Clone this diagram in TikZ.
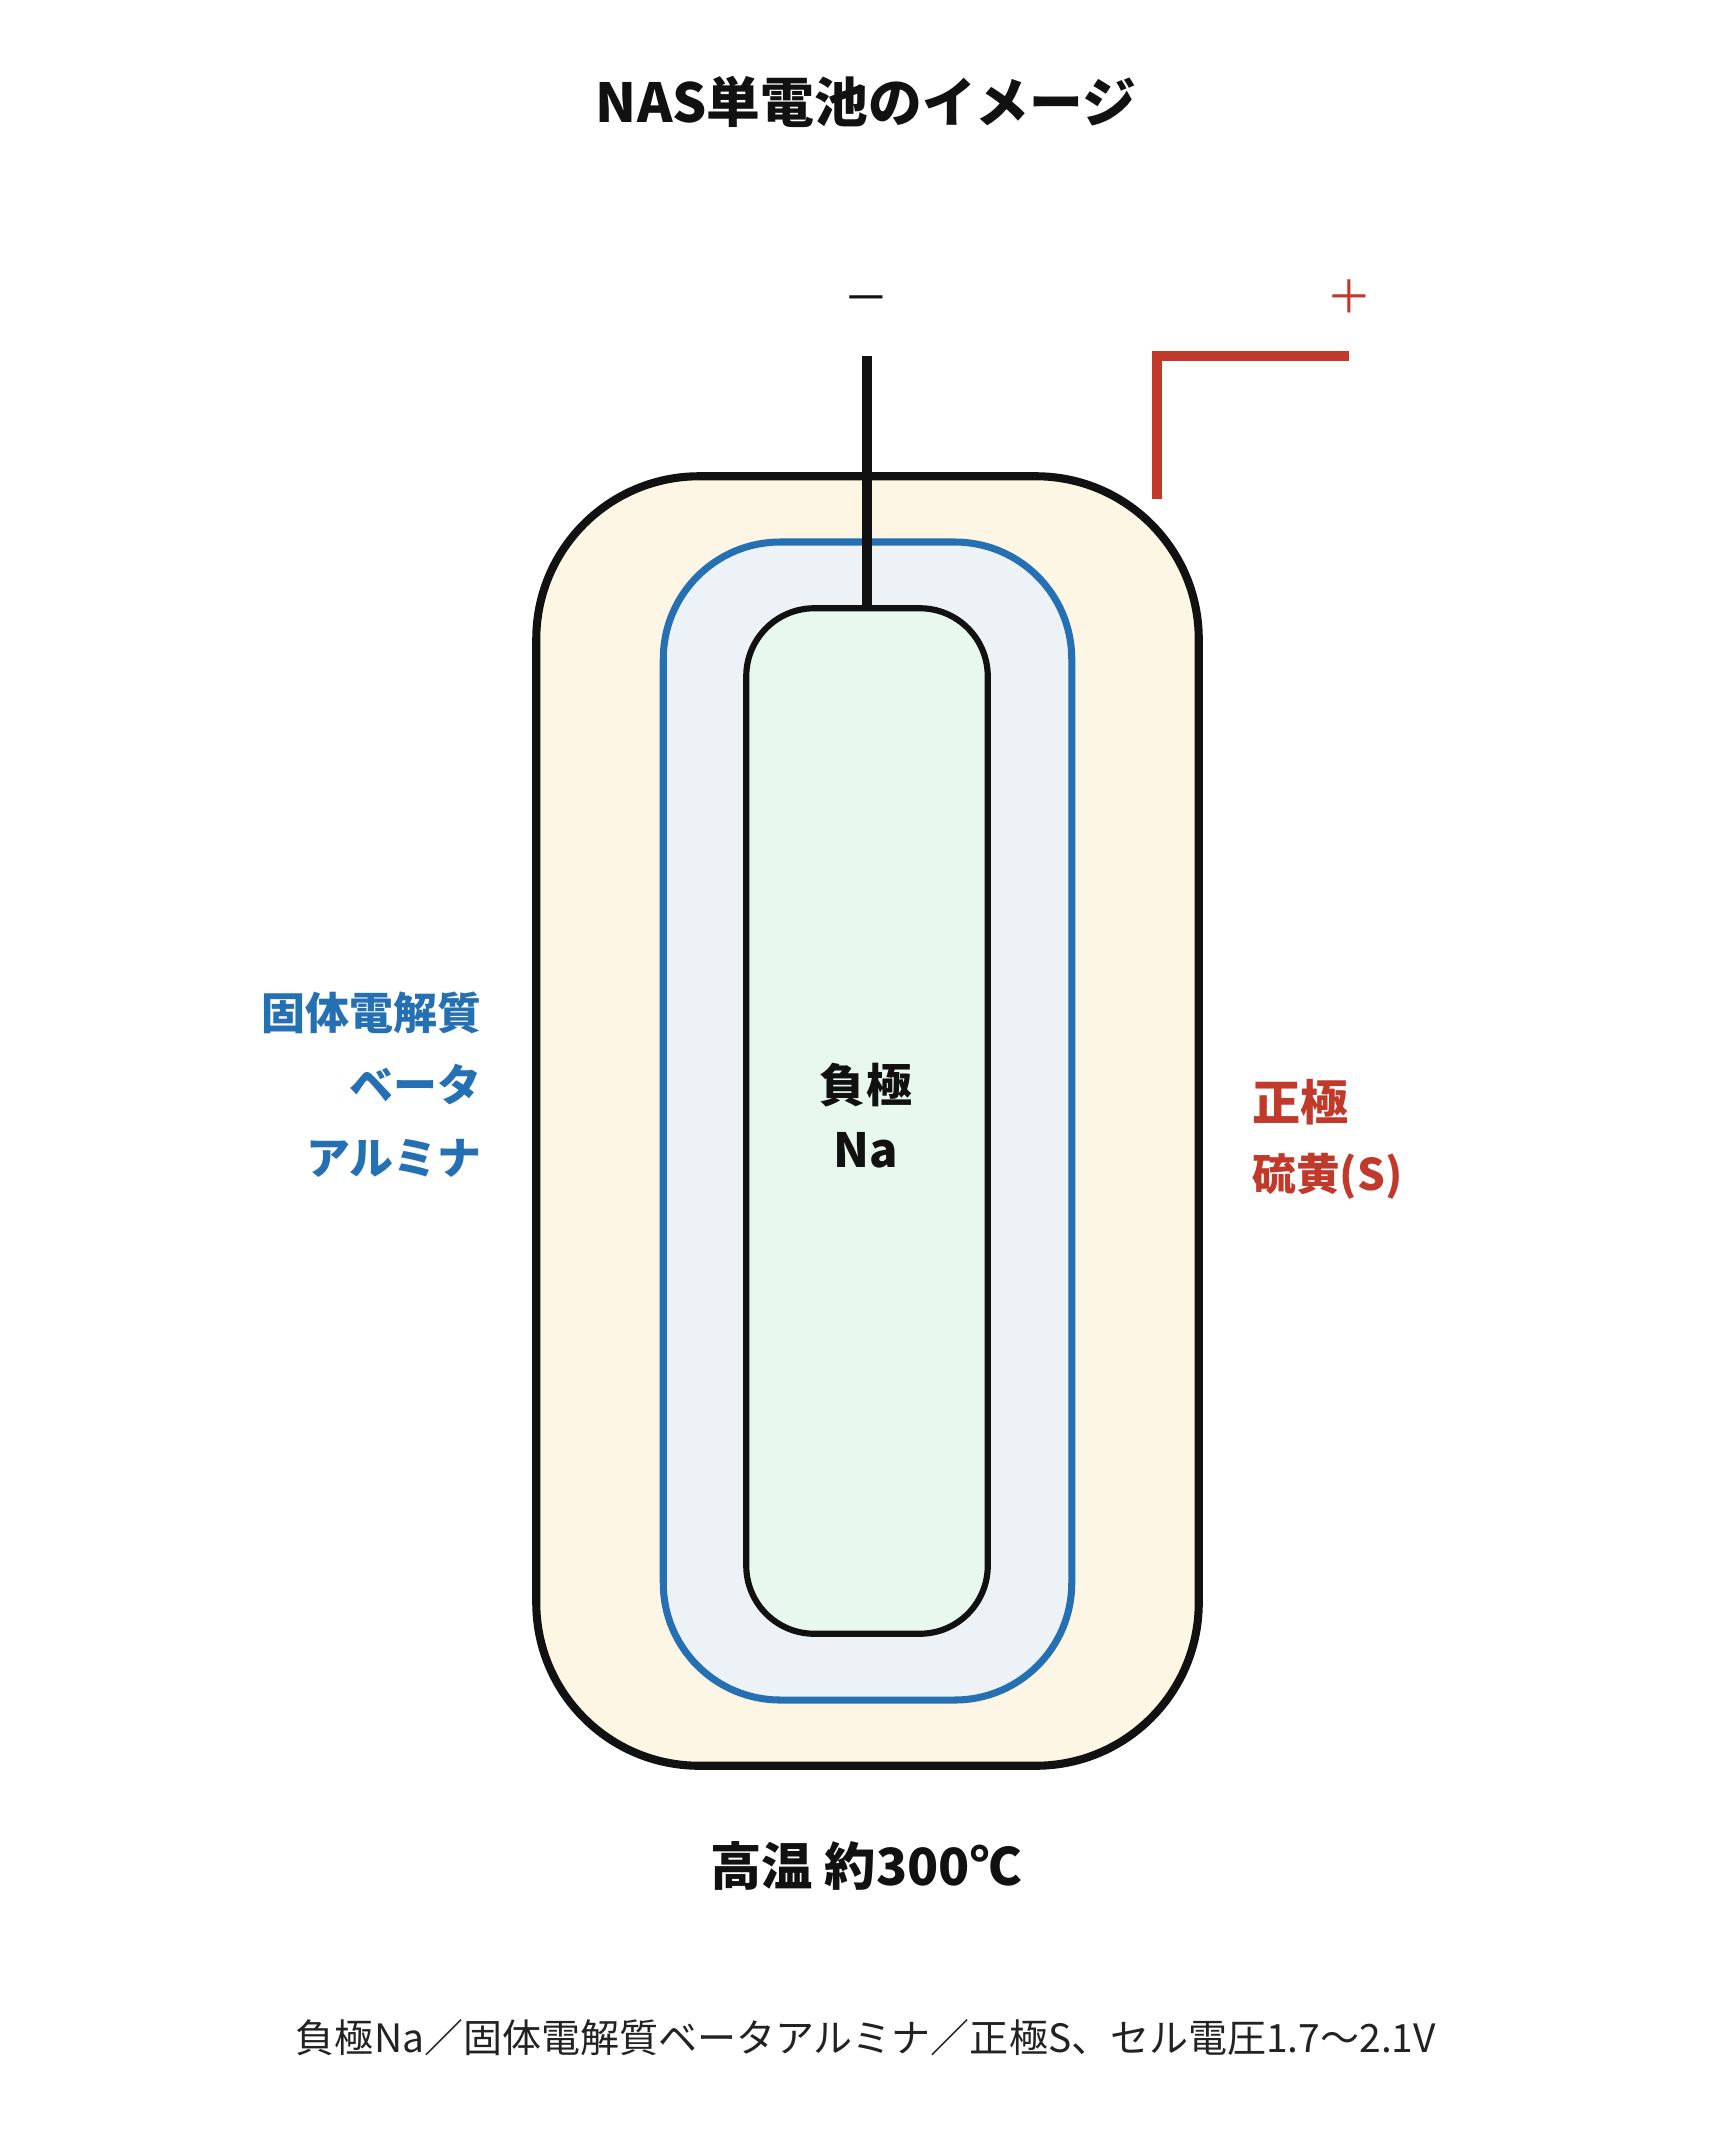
\documentclass[tikz,border=0pt]{standalone}
\usepackage{fontspec}
\newfontfamily\jpfont{Noto Sans CJK JP}
\usetikzlibrary{positioning}

\definecolor{ink}{HTML}{111111}
\definecolor{nasblue}{HTML}{2470B3}
\definecolor{nasred}{HTML}{C0392B}
\definecolor{cream}{HTML}{FDF6E4}
\definecolor{paleblue}{HTML}{EDF2F7}
\definecolor{palegreen}{HTML}{E8F8EE}
\definecolor{textgray}{HTML}{222222}

\tikzset{
  cell/.style={draw, rectangle, inner sep=0pt},
  jp/.style={inner sep=0pt, font=\jpfont\bfseries},
  wire/.style={line width=2.6pt, draw=ink},
}

\begin{document}
\begin{tikzpicture}[x=0.1mm, y=-0.1mm]
    \useasboundingbox (0,0) rectangle (1732,2152);

    \node[jp, text=ink, font=\jpfont\bfseries\fontsize{15.3}{18}\selectfont] (title) at (866,102) {NAS単電池のイメージ};

    % cell layers
    \node[cell, draw=ink, fill=cream, line width=2.3pt, rounded corners=16.3mm,
          minimum width=66.25mm, minimum height=128.95mm] (outer) at (867.5,1121) {};
    \node[cell, draw=nasblue, fill=paleblue, line width=2pt, rounded corners=11.7mm,
          minimum width=40.85mm, minimum height=115.8mm] (bam) at (867.5,1121) {};
    \node[cell, draw=ink, fill=palegreen, line width=1.75pt, rounded corners=6.8mm,
          minimum width=24.15mm, minimum height=102.55mm] (anode) at (867,1121) {};

    % terminals
    \coordinate (negtop) at (867,356);
    \coordinate (posfoot) at (1157,499);
    \coordinate (posend) at (1349,356);
    \draw[wire] (negtop) -- (anode.north);
    \draw[wire, draw=nasred] (posfoot) |- (posend);
    \node[jp, text=ink, font=\jpfont\fontsize{13}{15}\selectfont] (minus) at (866,305) {－};
    \node[jp, text=nasred, font=\jpfont\fontsize{13}{15}\selectfont] (plus) at (1349,297) {＋};

    % labels
    \node[jp, text=ink, font=\jpfont\bfseries\fontsize{13.1}{15}\selectfont] (negname) at (866,1085) {負極};
    \node[jp, text=ink, font=\jpfont\bfseries\fontsize{13.4}{15}\selectfont] (na) at (866,1150) {Na};

    \node[jp, text=nasblue, anchor=east, font=\jpfont\bfseries\fontsize{12.5}{15}\selectfont] (sel) at (482,1013) {固体電解質};
    \node[jp, text=nasblue, anchor=east, font=\jpfont\bfseries\fontsize{12.5}{15}\selectfont] (beta) at (482,1085) {ベータ};
    \node[jp, text=nasblue, anchor=east, font=\jpfont\bfseries\fontsize{12.5}{15}\selectfont] (alumina) at (482,1158) {アルミナ};

    \node[jp, text=nasred, anchor=west, font=\jpfont\bfseries\fontsize{13.7}{16}\selectfont] (posname) at (1252,1102) {正極};
    \node[jp, text=nasred, anchor=west, font=\jpfont\bfseries\fontsize{12.4}{14}\selectfont] (sulfur) at (1252,1176) {硫黄(S)};

    \node[jp, text=ink, font=\jpfont\bfseries\fontsize{14.6}{17}\selectfont] (temp) at (866,1866) {高温 約300℃};
    \node[jp, text=textgray, font=\jpfont\fontsize{11.1}{13}\selectfont] (summary) at (866,2038) {負極Na／固体電解質ベータアルミナ／正極S、セル電圧1.7～2.1V};
\end{tikzpicture}
\end{document}
